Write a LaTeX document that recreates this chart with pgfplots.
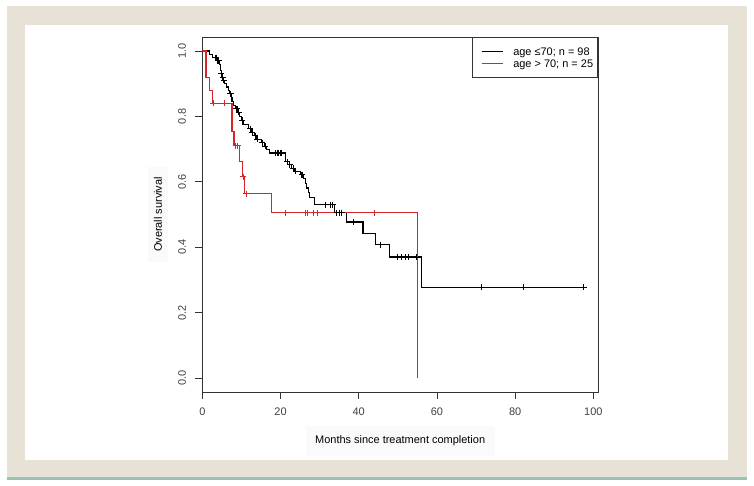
\documentclass[border=0pt]{standalone}
\usepackage{pgfplots}
\pgfplotsset{compat=1.18}
\usepackage{fontspec}
\setmainfont{Liberation Sans}
\definecolor{framebeige}{RGB}{231,225,214}
\definecolor{tealline}{RGB}{150,196,180}
\definecolor{kmred}{RGB}{215,38,38}
\definecolor{labelbg}{RGB}{250,250,250}
\begin{document}
\begin{tikzpicture}[x=1bp,y=1bp]
\fill[white] (0,0) rectangle (754,486);
\fill[framebeige] (7,9) rectangle (747,480);
\fill[white] (25,26) rectangle (728,461);
\fill[tealline] (7,6) rectangle (747,8.5);
\begin{axis}[
  at={(202.3bp,94bp)}, anchor=south west,
  scale only axis, width=395.7bp, height=355bp,
  xmin=0, xmax=101.2, ymin=-0.043, ymax=1.043,
  axis line style={black!80, line width=0.8bp},
  xtick={0,20,40,60,80,100},
  ytick={0,0.2,0.4,0.6,0.8,1},
  yticklabels={0.0,0.2,0.4,0.6,0.8,1.0},
  xtick pos=lower, ytick pos=left,
  tick align=outside, major tick length=7bp,
  tick style={black!80, line width=0.8bp},
  /pgf/number format/assume math mode=true,
  ticklabel style={font=\fontsize{11}{13}\selectfont, text=black!75},
  xticklabel style={inner ysep=8.3bp, inner xsep=0pt},
  yticklabel style={rotate=90, anchor=south, inner ysep=9bp, inner xsep=0pt},
  label style={font=\fontsize{11}{13}\selectfont, text=black},
  xlabel={Months since treatment completion},
  ylabel={Overall survival},
  xlabel style={at={(axis description cs:0.5,-0.137)}, anchor=center, fill=labelbg, inner xsep=9.5bp, inner ysep=10bp},
  ylabel style={at={(axis description cs:-0.112,0.5)}, anchor=center, fill=labelbg, inner xsep=10bp, inner ysep=5.5bp},
  legend cell align=left,
  legend image code/.code={\path (0bp,0bp); \draw[#1] (4bp,0bp) -- (25bp,0bp); \path (35bp,0bp);},
  legend style={at={(1,1)}, anchor=north east, draw=black!80, line width=0.8bp, fill=white,
    inner xsep=4.5bp, inner ysep=8.3bp, font=\fontsize{11}{11}\selectfont,
    nodes={inner xsep=0pt, inner ysep=1.85bp, text height=8bp, text depth=0pt}},
]
\addplot[black, line width=1.1bp, const plot] coordinates {
(0,1.000) (1.8,0.990) (2.7,0.980) (3.8,0.970) (4.4,0.960) (4.6,0.950) (4.7,0.940)
(4.8,0.930) (5.1,0.920) (5.4,0.910) (5.7,0.900) (6.2,0.890) (6.6,0.880) (7.0,0.870)
(7.4,0.858) (7.6,0.846) (7.9,0.834) (8.5,0.823) (9.1,0.812) (9.6,0.800) (10.0,0.788)
(10.4,0.775) (11.7,0.763) (12.5,0.752) (13.4,0.741) (13.9,0.730) (15.1,0.719)
(16.0,0.708) (16.4,0.698) (17.2,0.688) (21.3,0.662) (22.2,0.652) (22.9,0.642)
(23.7,0.632) (25.0,0.622) (25.8,0.611) (26.3,0.596) (26.6,0.581) (27.1,0.566)
(27.4,0.551) (28.6,0.530) (33.9,0.505) (36.9,0.477) (41.1,0.442) (44.2,0.407)
(47.8,0.370) (56.0,0.278) (98.3,0.278)
};
\addlegendentry{age ≤70; n = 98}
\addplot[kmred, line width=1.1bp, const plot] coordinates {
(0,1.000) (0.95,0.920) (1.8,0.880) (2.6,0.840) (7.6,0.755) (8.1,0.710) (9.6,0.662)
(10.2,0.616) (10.9,0.563) (17.8,0.506) (55.0,0.000)
};
\addlegendentry{age > 70; n = 25}
\addplot[black, only marks, mark=+, mark size=3bp, mark options={line width=0.9bp}, forget plot] coordinates {
(3.3,0.980) (3.6,0.980) (4.0,0.970) (4.2,0.970)
(4.9,0.930) (5.2,0.920) (5.5,0.910)
(7.1,0.870) (7.3,0.870)
(8.7,0.823) (9.0,0.823) (9.3,0.812)
(10.2,0.788)
(12.2,0.763) (12.7,0.752) (13.5,0.741) (14.0,0.730) (15.3,0.719) (16.1,0.708)
(18.6,0.688) (19.1,0.688) (19.5,0.688) (19.9,0.688) (20.3,0.688)
(21.7,0.662) (22.4,0.652) (23.3,0.642) (23.9,0.632) (25.4,0.622) (25.6,0.622)
(31.6,0.530) (32.8,0.530) (33.3,0.530)
(34.4,0.505) (35.2,0.505) (35.6,0.505)
(38.6,0.477) (45.6,0.407)
(49.9,0.370) (51.0,0.370) (51.9,0.370) (52.7,0.370) (54.8,0.370)
(71.4,0.278) (82.1,0.278) (97.6,0.278)
};
\addplot[kmred, only marks, mark=+, mark size=3bp, mark options={line width=0.9bp}, forget plot] coordinates {
(2.8,0.840) (5.7,0.840) (8.5,0.710) (9.1,0.710) (10.5,0.616) (11.3,0.563)
(21.2,0.506) (26.5,0.506) (26.9,0.506) (28.4,0.506) (29.5,0.506) (44.1,0.506)
};
\end{axis}
\end{tikzpicture}
\end{document}
